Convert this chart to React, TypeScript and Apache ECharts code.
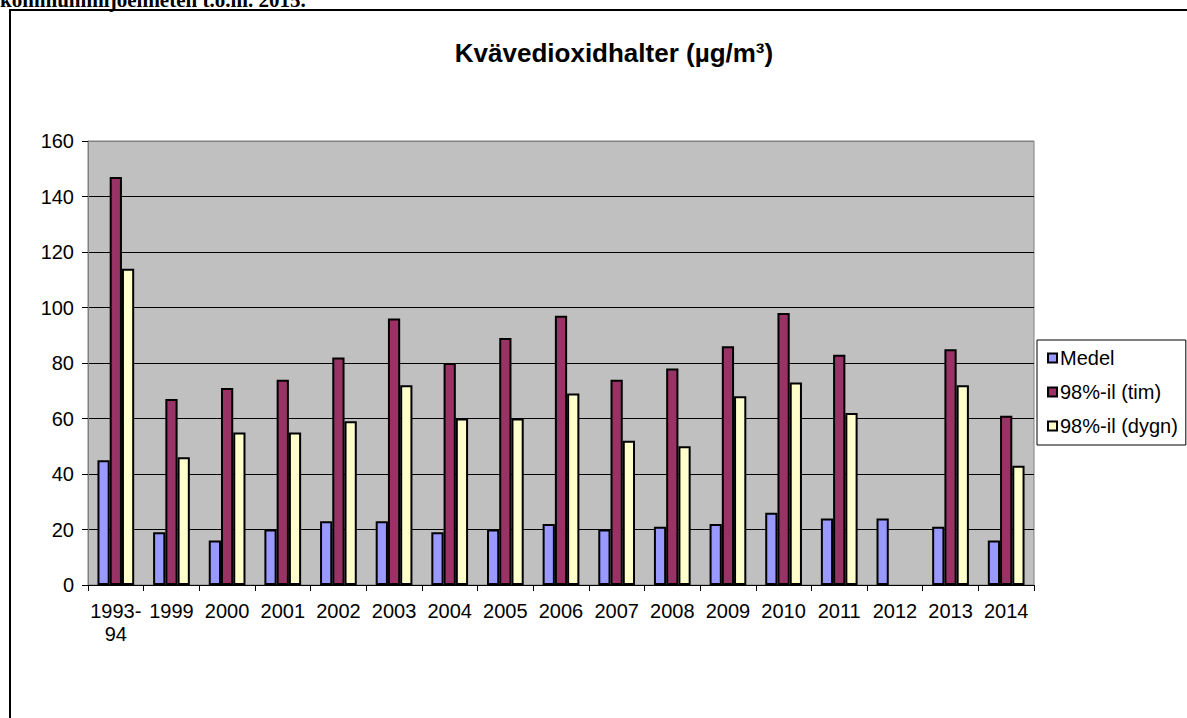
import React, { useEffect, useRef } from "react";
import * as echarts from "echarts";

const categories = ["1993-\n94", "1999", "2000", "2001", "2002", "2003", "2004", "2005", "2006", "2007", "2008", "2009", "2010", "2011", "2012", "2013", "2014"];
const medel = [45, 19, 16, 20, 23, 23, 19, 20, 22, 20, 21, 22, 26, 24, 24, 21, 16];
const timP98 = [147, 67, 71, 74, 82, 96, 80, 89, 97, 74, 78, 86, 98, 83, null, 85, 61];
const dygnP98 = [114, 46, 55, 55, 59, 72, 60, 60, 69, 52, 50, 68, 73, 62, null, 72, 43];
const seriesNames = ["Medel", "98%-il (tim)", "98%-il (dygn)"];
const titleText = "Kvävedioxidhalter (µg/m³)";
const topText = "kommunmiljöenheten t.o.m. 2015.";

const FONT = "'Liberation Sans', Arial, sans-serif";

export default function App() {
  const ref = useRef<HTMLDivElement>(null);
  useEffect(() => {
    document.body.style.margin = "0";
    document.body.style.overflow = "hidden";
    const chart = echarts.init(ref.current!, null, { renderer: "svg" });
    const barStyle = (color: string) => ({ color, borderColor: "#000", borderWidth: 2 });
    chart.setOption({
      animation: false,
      backgroundColor: "#fff",
      textStyle: { fontFamily: FONT },
      graphic: [
        {
          type: "rect",
          shape: { x: 10, y: 10, width: 1400, height: 1000 },
          style: { fill: "none", stroke: "#000", lineWidth: 2 },
          z: 0,
        },
        {
          type: "text",
          x: 0,
          y: 10,
          style: {
            text: topText,
            font: "bold 21px 'Liberation Serif', 'Times New Roman', serif",
            fill: "#000",
            textAlign: "left",
            textVerticalAlign: "bottom",
          },
        },
        {
          type: "text",
          x: 614,
          y: 53,
          style: {
            text: titleText,
            font: `bold 26px ${FONT}`,
            fill: "#000",
            textAlign: "center",
            textVerticalAlign: "middle",
          },
        },
      ],
      legend: {
        orient: "vertical",
        left: 1037,
        top: 340,
        itemWidth: 9,
        itemHeight: 9,
        itemGap: 14,
        padding: [8, 8, 9, 10],
        borderColor: "#000",
        borderWidth: 1,
        backgroundColor: "#fff",
        icon: "rect",
        data: seriesNames,
        textStyle: { fontFamily: FONT, fontSize: 20, color: "#000", padding: [0, 0, 0, -2] },
      },
      grid: {
        left: 88,
        right: 153,
        top: 141,
        bottom: 133,
        show: true,
        backgroundColor: "#C0C0C0",
        borderColor: "#808080",
        borderWidth: 1,
        containLabel: false,
        outerBoundsMode: "none",
      },
      xAxis: {
        type: "category",
        data: categories,
        axisLine: { lineStyle: { color: "#000", width: 1 } },
        axisTick: { show: true, length: 6, lineStyle: { color: "#000" } },
        axisLabel: { color: "#000", fontSize: 20, fontFamily: FONT, lineHeight: 23, margin: 14, interval: 0 },
      },
      yAxis: {
        type: "value",
        min: 0,
        max: 160,
        interval: 20,
        axisLine: { show: true, lineStyle: { color: "#808080", width: 1 } },
        axisTick: { show: true, length: 6, lineStyle: { color: "#000" } },
        axisLabel: { color: "#000", fontSize: 20, fontFamily: FONT, margin: 14 },
        splitLine: {
          show: true,
          lineStyle: {
            color: ["#000", "#000", "#000", "#000", "#000", "#000", "#000", "#000", "#808080"],
            width: 1,
          },
        },
      },
      series: [
        { name: seriesNames[0], type: "bar", data: medel, itemStyle: barStyle("#9999FF"), barGap: "0%", barCategoryGap: "34%" },
        { name: seriesNames[1], type: "bar", data: timP98, itemStyle: barStyle("#993366"), barGap: "0%", barCategoryGap: "34%" },
        { name: seriesNames[2], type: "bar", data: dygnP98, itemStyle: barStyle("#FFFFCC"), barGap: "0%", barCategoryGap: "34%" },
      ],
    });
    return () => chart.dispose();
  }, []);
  return <div ref={ref} style={{ width: 1187, height: 718 }} />;
}
